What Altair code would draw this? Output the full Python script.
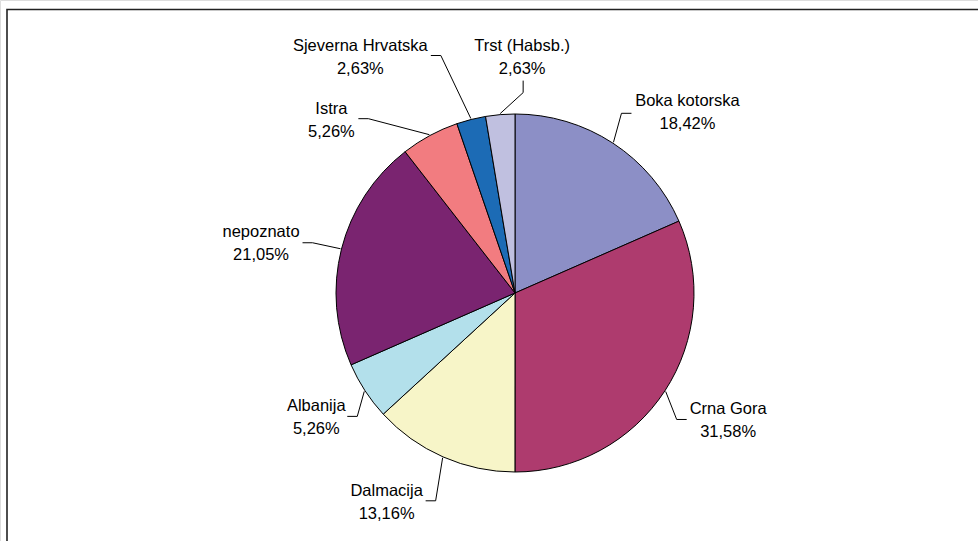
import altair as alt
import pandas as pd

# ---- data ----
categories = ["Boka kotorska", "Crna Gora", "Dalmacija", "Albanija",
              "nepoznato", "Istra", "Sjeverna Hrvatska", "Trst (Habsb.)"]
values = [18.42, 31.58, 13.16, 5.26, 21.05, 5.26, 2.63, 2.63]
colors = ["#8c8fc6", "#ae3b6e", "#f7f5c8", "#b3e0eb",
          "#7a2470", "#f27c80", "#1c6bb5", "#c0c0e0"]

# ---- label layout (offsets relative to the slice's edge anchor) ----
label_off = [(74, -29.5), (62.5, 29), (-56, 44.5), (-48, 26),
             (-79.5, -5), (-98, -14), (-110.5, -61.5), (22, -56.5)]
elbow_off = [(8, -29), (11, 28), (-7, 43), (-7, 25),
             (-28, -6), (-61, -16), (-30, -63), (23, -21)]
end_off = [(18, -29), (21, 28), (-17, 43), (-17, 25),
           (-38, -6), (-71, -16), (-40, -63), (23, -33)]

CX, CY, R = 515, 293, 179
LINE_H = 23

def pct(v):
    return f"{v:.2f}".replace(".", ",") + "%"

df = pd.DataFrame({
    "category": categories,
    "value": values,
    "order": list(range(len(categories))),
    "label": [f"{c}\n{pct(v)}" for c, v in zip(categories, values)],
    "ldx": [o[0] for o in label_off], "ldy": [o[1] for o in label_off],
    "edx": [o[0] for o in elbow_off], "edy": [o[1] for o in elbow_off],
    "ndx": [o[0] for o in end_off], "ndy": [o[1] for o in end_off],
})

base = alt.Chart(df)

pie = base.mark_arc(radius=R, stroke="#000000", strokeWidth=1).encode(
    theta=alt.Theta("value:Q", stack=True),
    color=alt.Color("category:N", scale=alt.Scale(domain=categories, range=colors), legend=None),
    order=alt.Order("order:Q"),
    x=alt.value(CX), y=alt.value(CY),
)

geo = base.transform_joinaggregate(total="sum(value)").transform_window(
    cum="sum(value)", sort=[alt.SortField("order")], frame=[None, 0]
).transform_calculate(
    mid="(datum.cum - datum.value/2)/datum.total*2*PI"
).transform_calculate(
    ax=f"{CX} + {R + 1}*sin(datum.mid)",
    ay=f"{CY} - {R + 1}*cos(datum.mid)",
).transform_calculate(
    lx="datum.ax + datum.ldx", ly="datum.ay + datum.ldy",
    ex="datum.ax + datum.edx", ey="datum.ay + datum.edy",
    nx="datum.ax + datum.ndx", ny="datum.ay + datum.ndy",
)

lead1 = geo.mark_rule(color="#000000", strokeWidth=1).encode(
    x=alt.X("ax:Q", scale=None), y=alt.Y("ay:Q", scale=None),
    x2="ex:Q", y2="ey:Q",
)
lead2 = geo.mark_rule(color="#000000", strokeWidth=1).encode(
    x=alt.X("ex:Q", scale=None), y=alt.Y("ey:Q", scale=None),
    x2="nx:Q", y2="ny:Q",
)
labels = geo.mark_text(
    font="Liberation Sans", fontSize=16.5, color="#000000",
    align="center", baseline="middle", lineBreak="\n", lineHeight=LINE_H,
    dy=-LINE_H / 2,
).encode(
    x=alt.X("lx:Q", scale=None), y=alt.Y("ly:Q", scale=None),
    text="label:N",
)

frame = alt.Chart(pd.DataFrame({"k": [0]})).mark_rect(
    fill=None, stroke="#222222", strokeWidth=1.6
).encode(
    x=alt.value(7), y=alt.value(9.5), x2=alt.value(1000), y2=alt.value(600)
)

chart = alt.layer(frame, pie, lead1, lead2, labels).properties(
    width=978, height=541,
    autosize=alt.AutoSizeParams(type="none"),
    padding=0,
).configure_view(stroke=None).configure(background="#ffffff")

chart.save("out.html", embed_options={"renderer": "svg", "actions": False})
